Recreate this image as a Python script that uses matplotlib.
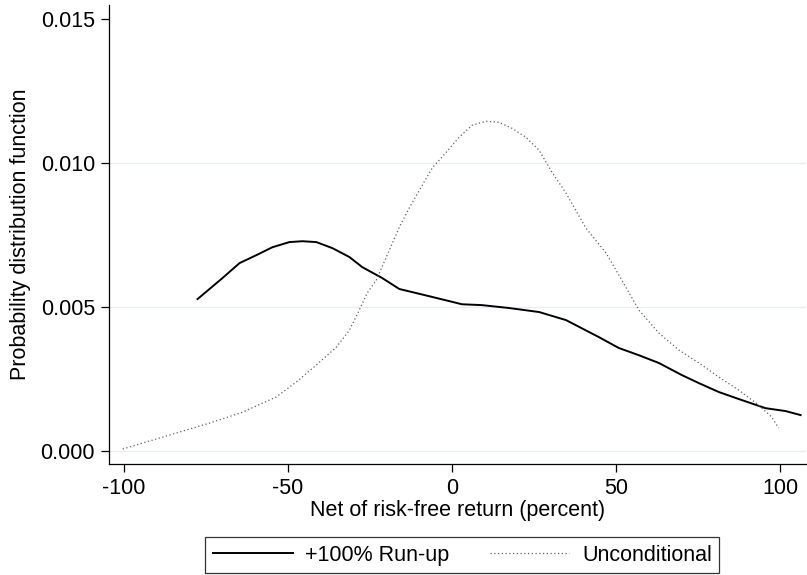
import matplotlib
matplotlib.use("Agg")
from matplotlib import pyplot as plt

plt.rcParams['font.family'] = ['Liberation Sans', 'DejaVu Sans']

# +100% run-up density
runup_x = [-77.6, -70.0, -64.8, -59.6, -54.8, -49.6, -45.6, -41.4, -36.5, -31.3,
           -27.4, -21.3, -16.1, -11.0, -7.0, 3.0, 9.1, 17.3, 26.5, 34.7,
           44.7, 50.8, 56.9, 63.0, 70.0, 75.2, 81.3, 87.3, 95.5, 101.6, 106.2]
runup_y = [0.00528, 0.00601, 0.00653, 0.00681, 0.00708, 0.00726, 0.00729, 0.00726, 0.00705, 0.00674,
           0.00639, 0.00601, 0.00563, 0.00549, 0.00538, 0.00510, 0.00507, 0.00497, 0.00483, 0.00455,
           0.00396, 0.00358, 0.00333, 0.00306, 0.00264, 0.00236, 0.00205, 0.00181, 0.00149, 0.00139, 0.00125]

# unconditional density
uncond_x = [-100.4, -94.3, -84.0, -74.0, -63.9, -53.6, -47.5, -41.4, -35.3, -31.3,
            -28.3, -25.9, -23.1, -16.1, -13.1, -10.0, -6.1, -1.8, 2.1, 6.1,
            10.3, 14.3, 18.3, 22.5, 26.5, 30.4, 34.7, 40.8, 46.9, 51.7,
            56.9, 63.0, 69.1, 75.2, 81.3, 87.3, 93.4, 97.4, 99.5]
uncond_y = [0.00007, 0.00028, 0.00063, 0.00097, 0.00135, 0.00188, 0.00240, 0.00299, 0.00361, 0.00420,
            0.00490, 0.00549, 0.00594, 0.00778, 0.00844, 0.00906, 0.00983, 0.01038, 0.01090, 0.01132,
            0.01146, 0.01142, 0.01121, 0.01090, 0.01045, 0.00969, 0.00896, 0.00774, 0.00688, 0.00594,
            0.00490, 0.00410, 0.00351, 0.00306, 0.00257, 0.00212, 0.00160, 0.00118, 0.00080]

xticks = [-100, -50, 0, 50, 100]
yticks = [0.000, 0.005, 0.010, 0.015]
ytick_labels = ["0.000", "0.005", "0.010", "0.015"]

fs = 15.5

fig = plt.figure(figsize=(8.07, 5.75), dpi=100)
ax = fig.add_axes([0.135, 0.193, 0.864, 0.798])

for yv in yticks[:-1]:
    ax.axhline(yv, color="#e6eef0", lw=1.0, zorder=0)

ax.plot(runup_x, runup_y, color="black", lw=1.4, label="+100% Run-up")
ax.plot(uncond_x, uncond_y, color="#606060", lw=0.9, linestyle=(0, (1, 2.0)),
        label="Unconditional")

ax.set_xlim(-104.6, 107.9)
ax.set_ylim(-0.00045, 0.01549)
ax.set_xticks(xticks)
ax.set_xticklabels([str(v) for v in xticks])
ax.set_yticks(yticks)
ax.set_yticklabels(ytick_labels)
ax.tick_params(axis="both", direction="out", length=6, width=0.9, labelsize=fs, pad=4)

for s in ["top", "right"]:
    ax.spines[s].set_visible(False)
for s in ["left", "bottom"]:
    ax.spines[s].set_linewidth(0.9)

ax.set_xlabel("Net of risk-free return (percent)", fontsize=fs, labelpad=1)
ax.set_ylabel("Probability distribution function", fontsize=fs, labelpad=7)

leg = fig.legend(loc="lower center", bbox_to_anchor=(0.573, 0.003), ncol=2, fontsize=fs,
                 frameon=True, fancybox=False, edgecolor="black", handlelength=3.7,
                 handletextpad=0.6, columnspacing=1.85, borderpad=0.35, borderaxespad=0)
leg.get_frame().set_linewidth(0.9)

plt.savefig("out.png", dpi=100)
plt.close()
